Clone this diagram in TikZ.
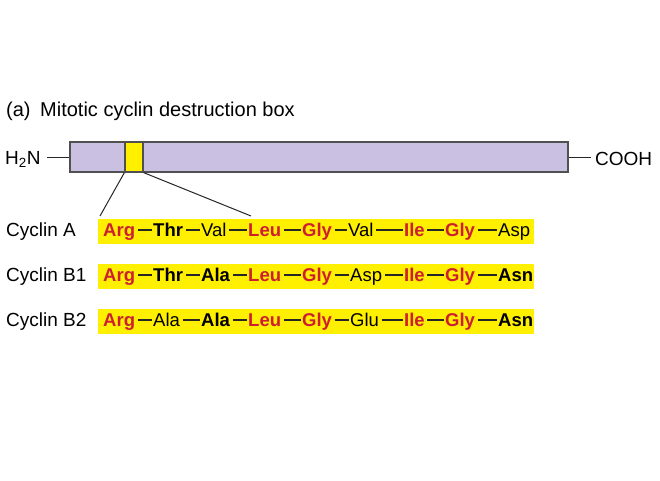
\documentclass[tikz,border=0pt]{standalone}
\usepackage{fontspec}
\setmainfont{Liberation Sans}
\definecolor{lav}{RGB}{201,192,226}
\definecolor{ybox}{RGB}{255,240,0}
\definecolor{aared}{RGB}{205,30,50}
\definecolor{edge}{RGB}{80,80,80}
\tikzset{
  lbl/.style={anchor=base west,inner sep=0pt,font=\fontsize{19}{21}\selectfont},
  aareg/.style={lbl,font=\fontsize{18.5}{20}\selectfont},
  aabold/.style={lbl,font=\fontsize{18.5}{20}\selectfont\bfseries},
  aakey/.style={aabold,text=aared},
  band/.style={fill=ybox,draw=none},
  pep/.style={line width=1pt,draw=black!85},
  dsh/.style={line width=1.7pt,draw=black!85},
}
\newcommand{\seqdash}[2]{\draw[dsh] ([xshift=2.5pt,yshift=7pt]#1.base east) -- ([xshift=-1.5pt,yshift=7pt]#2.base west);}
\begin{document}
\begin{tikzpicture}[x=1pt,y=-1pt]
\useasboundingbox[fill=white] (0,0) rectangle (660,480);
% title
\node[lbl,font=\fontsize{20}{22}\selectfont] (ta) at (6,116.5) {(a)};
\node[lbl,font=\fontsize{20}{22}\selectfont] (title) at (40,116.5) {Mitotic cyclin destruction box};
% protein bar
\node[draw=edge,line width=1.2pt,fill=lav,minimum width=498,minimum height=30,inner sep=0pt] (bar) at (319,157) {};
\node[draw=edge,line width=1.2pt,fill=ybox,minimum width=18,minimum height=30,inner sep=0pt] (box) at (134,157) {};
\node[lbl] (h2n) at (5,164.5) {H\textsubscript{2}N};
\coordinate (hl) at (47,157);
\draw[pep] (hl) -- (bar.west);
\node[lbl] (cooh) at (595,165) {COOH};
\coordinate (cl) at (591,157);
\draw[pep] (bar.east) -- (cl);
% zoom lines
\coordinate (zl) at (100,216);
\coordinate (zr) at (251,216);
\draw[pep] (box.south west) -- (zl);
\draw[pep] (box.south east) -- (zr);
% bands
\fill[band] (98,219) rectangle (534,243.5);
\fill[band] (98,264) rectangle (534,289);
\fill[band] (98,309) rectangle (534,334);
% row A
\node[lbl] (la) at (6,236.7) {Cyclin A};
\node[aakey]  (a1) at (103,236.7) {Arg};
\node[aabold] (a2) at (153,236.7) {Thr};
\node[aareg]  (a3) at (201,236.7) {Val};
\node[aakey]  (a4) at (248,236.7) {Leu};
\node[aakey]  (a5) at (302,236.7) {Gly};
\node[aareg]  (a6) at (348,236.7) {Val};
\node[aakey]  (a7) at (404,236.7) {Ile};
\node[aakey]  (a8) at (445,236.7) {Gly};
\node[aareg]  (a9) at (498,236.7) {Asp};
\seqdash{a1}{a2}\seqdash{a2}{a3}\seqdash{a3}{a4}\seqdash{a4}{a5}
\seqdash{a5}{a6}\seqdash{a6}{a7}\seqdash{a7}{a8}\seqdash{a8}{a9}
% row B1
\node[lbl] (lb1) at (6,281.7) {Cyclin B1};
\node[aakey]  (b1) at (103,281.7) {Arg};
\node[aabold] (b2) at (153,281.7) {Thr};
\node[aabold] (b3) at (201,281.7) {Ala};
\node[aakey]  (b4) at (248,281.7) {Leu};
\node[aakey]  (b5) at (302,281.7) {Gly};
\node[aareg]  (b6) at (350,281.7) {Asp};
\node[aakey]  (b7) at (404,281.7) {Ile};
\node[aakey]  (b8) at (445,281.7) {Gly};
\node[aabold] (b9) at (498,281.7) {Asn};
\seqdash{b1}{b2}\seqdash{b2}{b3}\seqdash{b3}{b4}\seqdash{b4}{b5}
\seqdash{b5}{b6}\seqdash{b6}{b7}\seqdash{b7}{b8}\seqdash{b8}{b9}
% row B2
\node[lbl] (lb2) at (6,326.7) {Cyclin B2};
\node[aakey]  (c1) at (103,326.7) {Arg};
\node[aareg]  (c2) at (153,326.7) {Ala};
\node[aabold] (c3) at (201,326.7) {Ala};
\node[aakey]  (c4) at (248,326.7) {Leu};
\node[aakey]  (c5) at (302,326.7) {Gly};
\node[aareg]  (c6) at (350,326.7) {Glu};
\node[aakey]  (c7) at (404,326.7) {Ile};
\node[aakey]  (c8) at (445,326.7) {Gly};
\node[aabold] (c9) at (498,326.7) {Asn};
\seqdash{c1}{c2}\seqdash{c2}{c3}\seqdash{c3}{c4}\seqdash{c4}{c5}
\seqdash{c5}{c6}\seqdash{c6}{c7}\seqdash{c7}{c8}\seqdash{c8}{c9}
\end{tikzpicture}
\end{document}
